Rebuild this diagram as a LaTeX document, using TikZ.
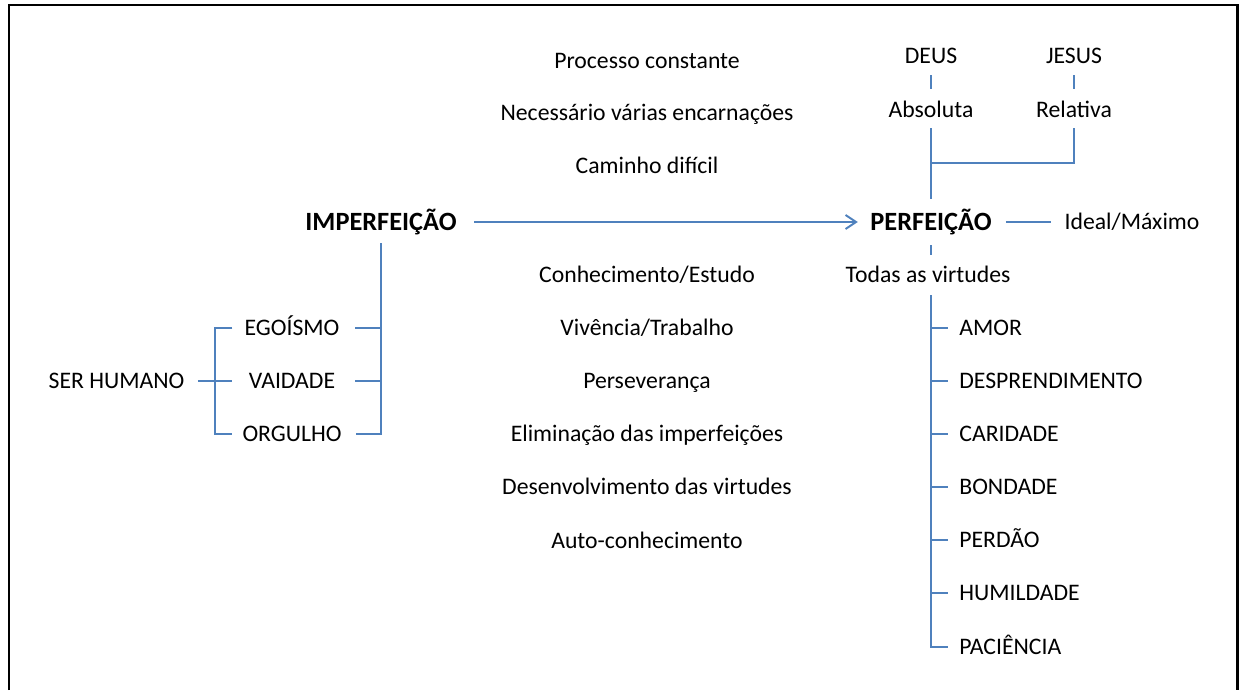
\documentclass[tikz,border=0pt]{standalone}
\usepackage{fontspec}
\setmainfont{Carlito}
\usepackage{tikz}
\usetikzlibrary{arrows.meta}
\definecolor{ink}{HTML}{000000}
\definecolor{wireblue}{HTML}{4F81BD}
\tikzset{
  wire/.style={draw=wireblue, line width=1.1pt},
  txt/.style={text=ink, font=\fontsize{13.5}{16}\selectfont, inner sep=2pt, text height=9.5pt, text depth=1pt},
  head/.style={text=ink, font=\fontsize{15}{18}\selectfont\bfseries, inner sep=2pt, text height=10.5pt, text depth=1pt},
  vice/.style={txt, minimum width=59.5pt},
  virt/.style={txt, anchor=west},
}
\begin{document}
\begin{tikzpicture}[x=0.02cm,y=-0.02cm]
  \useasboundingbox (0,0) rectangle (1240,690);
  \draw[ink, line width=1.7pt] (9,690) -- (9,5) -- (1237,5) -- (1237,690);

  % main line
  \node[head] (imp) at (381,222) {IMPERFEIÇÃO};
  \node[head] (perf) at (931,222) {PERFEIÇÃO};
  \node[txt] (ideal) at (1132,222) {Ideal/Máximo};
  \draw[wire, -{Straight Barb[length=6pt,width=8pt]}, shorten <=8pt, shorten >=5pt] (imp.east) -- (perf.west);
  \draw[wire, shorten <=6pt, shorten >=5.5pt] (perf.east) -- (ideal.west);

  % path notes
  \node[txt] (proc) at (647,61) {Processo constante};
  \node[txt] (nec) at (647,113) {Necessário várias encarnações};
  \node[txt] (cam) at (647,166) {Caminho difícil};
  \node[txt] (con) at (647,275) {Conhecimento/Estudo};
  \node[txt] (viv) at (647,328) {Vivência/Trabalho};
  \node[txt] (pers) at (647,381) {Perseverança};
  \node[txt] (elim) at (647,434) {Eliminação das imperfeições};
  \node[txt] (desv) at (647,487) {Desenvolvimento das virtudes};
  \node[txt] (auto) at (647,541) {Auto-conhecimento};

  % deus / jesus
  \node[txt] (deus) at (931,56) {DEUS};
  \node[txt] (jesus) at (1074,56) {JESUS};
  \node[txt] (abs) at (931,110) {Absoluta};
  \node[txt] (rel) at (1074,110) {Relativa};
  \coordinate (jn) at (931,163);
  \draw[wire, shorten <=3.5pt, shorten >=4.5pt] (deus) -- (abs);
  \draw[wire, shorten <=3.5pt, shorten >=4.5pt] (jesus) -- (rel);
  \draw[wire, shorten <=3pt, shorten >=5pt] (abs) -- (perf);
  \draw[wire, shorten <=3pt] (rel.south) |- (jn);

  % virtues
  \node[txt] (todas) at (928,275) {Todas as virtudes};
  \draw[wire, shorten <=5.3pt, shorten >=4.1pt] (perf.south) -- (todas.north -| perf);
  \node[virt] (amor) at (955.5,328) {AMOR};
  \node[virt] (despr) at (955.5,381) {DESPRENDIMENTO};
  \node[virt] (carid) at (955.5,434) {CARIDADE};
  \node[virt] (bond) at (955.5,487) {BONDADE};
  \node[virt] (perd) at (955.5,540) {PERDÃO};
  \node[virt] (humil) at (955.5,593) {HUMILDADE};
  \node[virt] (pac) at (955.5,647) {PACIÊNCIA};
  \draw[wire, shorten <=4pt, shorten >=4pt] (todas.south -| perf) |- (pac.west);
  \draw[wire, shorten >=4pt] (perf |- amor) -- (amor.west);
  \draw[wire, shorten >=4pt] (perf |- despr) -- (despr.west);
  \draw[wire, shorten >=4pt] (perf |- carid) -- (carid.west);
  \draw[wire, shorten >=4pt] (perf |- bond) -- (bond.west);
  \draw[wire, shorten >=4pt] (perf |- perd) -- (perd.west);
  \draw[wire, shorten >=4pt] (perf |- humil) -- (humil.west);

  % ser humano
  \node[txt] (ser) at (116.5,381) {SER HUMANO};
  \node[vice] (ego) at (292,328) {EGOÍSMO};
  \node[vice] (vai) at (292,381) {VAIDADE};
  \node[vice] (org) at (292,434) {ORGULHO};
  \coordinate (lb) at (215,381);
  \draw[wire, shorten <=5.5pt, shorten >=4pt] (ser.east) -- (vai.west);
  \draw[wire, shorten <=4pt, shorten >=4pt] (ego.west) -| (lb) |- (org.west);
  \draw[wire, shorten <=4pt, shorten >=6pt] (imp.south) |- (org.east);
  \draw[wire, shorten >=6pt] (imp |- ego) -- (ego.east);
  \draw[wire, shorten >=6pt] (imp |- vai) -- (vai.east);
\end{tikzpicture}
\end{document}
